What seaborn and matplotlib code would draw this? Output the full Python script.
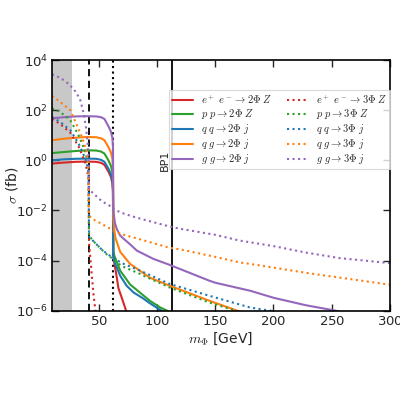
import numpy as np
import matplotlib
matplotlib.use("Agg")
import matplotlib.pyplot as plt
import seaborn as sns
from matplotlib.ticker import NullLocator

# ---------------- data (log10 of sigma in fb) ----------------
# 2 Phi processes (solid)
m_ee2 = [10, 20, 30, 40, 48, 52, 55, 58.5, 60.5, 61.8, 62.3, 62.6, 63.3, 65, 67, 70, 73.6, 75]
lg_ee2 = [-0.13, -0.09, -0.06, -0.05, -0.06, -0.1, -0.18, -0.46, -0.66, -0.91, -1.26,
          -3.8, -4.05, -4.5, -5.1, -5.5, -6.0, -6.2]

m_pp2 = [10, 20, 30, 40, 48, 52, 55, 58.5, 60.5, 61.8, 62.3, 62.6, 63.5, 68.5, 77, 83, 94, 103, 109, 112]
lg_pp2 = [0.29, 0.33, 0.37, 0.4, 0.39, 0.35, 0.27, -0.01, -0.21, -0.46, -0.81,
          -3.6, -3.8, -4.4, -4.95, -5.18, -5.6, -5.87, -6.0, -6.1]

m_qq2 = [10, 20, 30, 40, 48, 52, 55, 58.5, 60.5, 61.8, 62.3, 62.6, 64, 68.5, 74, 80, 88, 94, 100, 106]
lg_qq2 = [0.0, 0.04, 0.06, 0.07, 0.06, 0.02, -0.06, -0.34, -0.54, -0.79, -1.14,
          -3.87, -4.1, -4.6, -5.0, -5.27, -5.5, -5.7, -5.88, -6.05]

m_qg2 = [10, 20, 30, 40, 48, 52, 55, 58.5, 60.5, 61.8, 62.3, 62.6, 63.5, 64.5, 68.5, 77, 88.4, 94,
         111, 145, 165, 175]
lg_qg2 = [0.8, 0.86, 0.9, 0.93, 0.92, 0.88, 0.8, 0.52, 0.32, 0.07, -0.28,
          -2.3, -2.8, -3.1, -3.65, -4.13, -4.5, -4.68, -5.0, -5.6, -5.93, -6.1]

m_gg2 = [10, 20, 30, 40, 48, 52, 55, 58.5, 60.5, 61.8, 62.3, 62.6, 64, 65.7, 68.5, 71.3, 77, 82.8, 97,
         111, 145, 150, 180, 200, 228, 254, 262]
lg_gg2 = [1.67, 1.72, 1.75, 1.76, 1.75, 1.72, 1.65, 1.35, 1.15, 0.9, 0.55,
          -2.0, -2.5, -2.75, -3.0, -3.12, -3.35, -3.6, -3.93, -4.17, -4.8, -4.88, -5.2, -5.48,
          -5.78, -6.0, -6.1]

# 3 Phi processes (dotted)
m_ee3 = [10, 17, 25.7, 32.8, 36, 38.5, 40.3, 41.3, 41.8, 44, 45.5, 47.3, 48.5]
lg_ee3 = [1.65, 1.45, 1.1, 0.55, 0.2, -0.1, -0.45, -0.7, -3.3, -4.5, -5.3, -6.0, -6.5]

m_pp3 = [10, 17, 25.7, 32.8, 36, 38.5, 40.3, 41.3, 41.8, 45, 51.4, 57, 62.7, 64, 70, 85.6, 88.4,
         111, 145, 168, 176]
lg_pp3 = [2.07, 1.93, 1.6, 1.0, 0.65, 0.33, 0.0, -0.3, -3.0, -3.2, -3.5, -3.75, -3.95, -4.02,
          -4.22, -4.53, -4.6, -5.07, -5.67, -6.0, -6.15]

m_qq3 = [10, 17, 25.7, 32.8, 36, 38.5, 40.3, 41.3, 41.8, 45, 51.4, 57, 62.7, 64, 70, 85.6, 111,
         145, 180, 198, 206]
lg_qq3 = [1.73, 1.53, 1.2, 0.67, 0.35, 0.07, -0.25, -0.5, -3.05, -3.2, -3.5, -3.72, -3.9, -3.93,
          -4.1, -4.4, -4.93, -5.4, -5.87, -6.0, -6.12]

m_qg3 = [10, 17, 25.7, 31.4, 35, 37.1, 39, 40.3, 41.3, 41.8, 45, 51.4, 57, 62.7, 70, 85.6, 111,
         120, 150, 171, 180, 230, 300]
lg_qg3 = [2.57, 2.33, 2.0, 1.4, 1.0, 0.73, 0.45, 0.2, -0.2, -2.2, -2.35, -2.5, -2.65, -2.8,
          -2.95, -3.15, -3.49, -3.55, -3.85, -4.07, -4.13, -4.5, -4.96]

m_gg3 = [10, 15, 20, 25, 30, 34, 37, 39, 40.5, 41.3, 41.8, 45, 52, 58, 62, 63, 70, 80, 90, 111,
         120, 150, 171, 200, 228, 257, 300]
lg_gg3 = [3.43, 3.33, 3.2, 3.02, 2.75, 2.45, 1.9, 1.35, 0.73, 0.2, -1.15, -1.3, -1.6, -1.78,
          -1.86, -1.95, -2.1, -2.25, -2.38, -2.64, -2.73, -2.97, -3.2, -3.42, -3.68, -3.9, -4.1]

labels_2 = [r"$e^+\ e^-\to 2\Phi\ Z$", r"$p\ p\to 2\Phi\ Z$", r"$q\ q\to 2\Phi\ j$",
            r"$q\ g\to 2\Phi\ j$", r"$g\ g\to 2\Phi\ j$"]
labels_3 = [r"$e^+\ e^-\to 3\Phi\ Z$", r"$p\ p\to 3\Phi\ Z$", r"$q\ q\to 3\Phi\ j$",
            r"$q\ g\to 3\Phi\ j$", r"$g\ g\to 3\Phi\ j$"]
colores = ["tab:red", "tab:green", "tab:blue", "tab:orange", "tab:purple"]

m_band = 27.5      # grey excluded region
m_h3 = 41.7        # m_h / 3
m_h2 = 62.5        # m_h / 2
m_bp1 = 113.3

# ---------------- style ----------------
sns.set_style("ticks")
plt.rcParams["font.family"] = ["DejaVu Sans"]
plt.rcParams["mathtext.fontset"] = "cm"
plt.rcParams["axes.formatter.use_mathtext"] = True
plt.rcParams["xtick.direction"] = "in"
plt.rcParams["ytick.direction"] = "in"
plt.rcParams["xtick.top"] = True
plt.rcParams["ytick.right"] = True

fig = plt.figure(figsize=(4, 4), dpi=100)
ax = fig.add_axes([0.13, 0.223, 0.845, 0.627])

ax.axvspan(10, m_band, color="#c8c8c8", lw=0, zorder=0)
ax.axvline(m_h3, color="black", ls=(0, (4, 2.5)), lw=1.3)
ax.axvline(m_h2, color="black", ls=":", lw=1.5)
ax.axvline(m_bp1, color="black", lw=1.3)

datos_2 = [(m_ee2, lg_ee2), (m_pp2, lg_pp2), (m_qq2, lg_qq2), (m_qg2, lg_qg2), (m_gg2, lg_gg2)]
datos_3 = [(m_ee3, lg_ee3), (m_pp3, lg_pp3), (m_qq3, lg_qq3), (m_qg3, lg_qg3), (m_gg3, lg_gg3)]

for (mx, lg), lab, c in zip(datos_2, labels_2, colores):
    sns.lineplot(x=mx, y=10 ** np.array(lg), color=c, lw=1.5, label=lab, ax=ax,
                 estimator=None, sort=False)
for (mx, lg), lab, c in zip(datos_3, labels_3, colores):
    sns.lineplot(x=mx, y=10 ** np.array(lg), color=c, lw=1.5, ls=":", label=lab, ax=ax,
                 estimator=None, sort=False)

ax.set_yscale("log")
ax.set_xlim(10, 300)
ax.set_ylim(1e-6, 1e4)
ax.set_yticks([1e-6, 1e-4, 1e-2, 1e0, 1e2, 1e4])
ax.yaxis.set_minor_locator(NullLocator())
ax.xaxis.set_minor_locator(NullLocator())
ax.set_xticks([50, 100, 150, 200, 250, 300])
ax.tick_params(axis="both", which="major", labelsize=9.5, length=5, width=1, pad=3)
for s in ax.spines.values():
    s.set_linewidth(1.2)
    s.set_color("black")

ax.set_xlabel(r"$m_\Phi$ [GeV]", fontsize=10, labelpad=2)
ax.set_ylabel(r"$\sigma$ (fb)", fontsize=10)
ax.yaxis.set_label_coords(-0.095, 0.5)

ax.text(m_bp1 - 2.5, 1.0, "BP1", rotation=90, ha="right", va="center", fontsize=8)

L = ax.legend(loc="upper right", bbox_to_anchor=(1.0, 0.88), ncol=2, fontsize=7.5,
              frameon=True, fancybox=False, borderaxespad=0.0, columnspacing=1.5,
              handlelength=2.0, handletextpad=0.7, labelspacing=0.1, borderpad=0.3)
L.get_frame().set_edgecolor("#d0d0d0")
L.get_frame().set_linewidth(0.8)

plt.savefig("out.png", dpi=100)
